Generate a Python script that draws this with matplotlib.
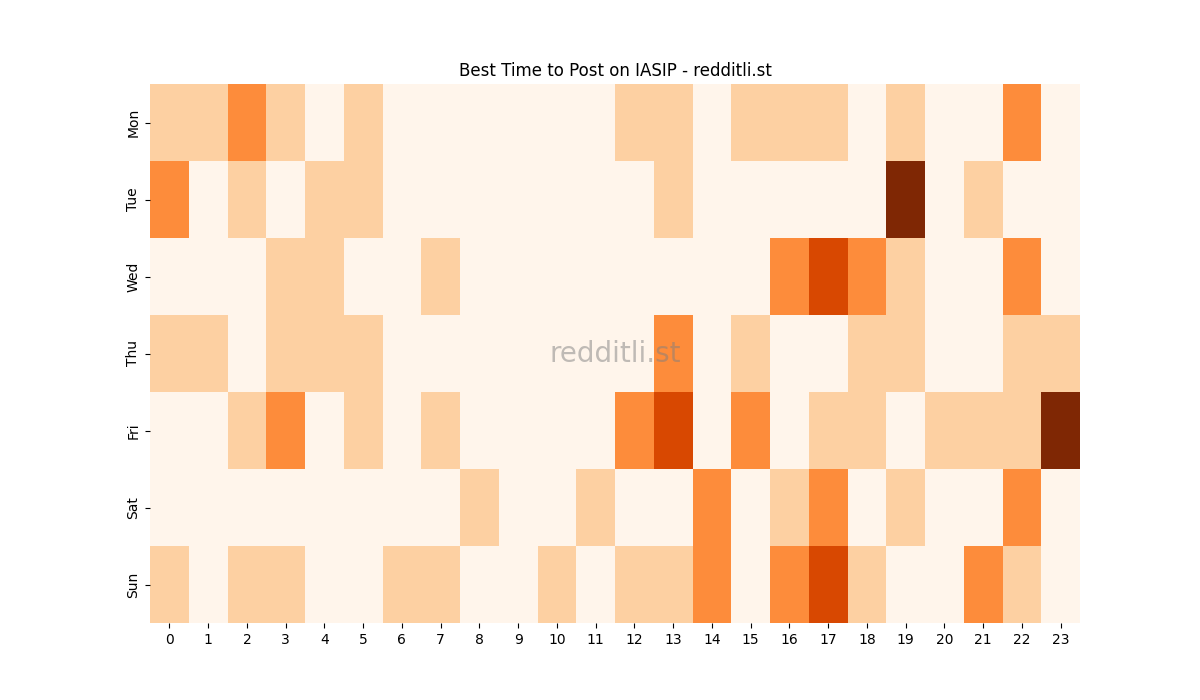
import numpy as np
import matplotlib
matplotlib.use("Agg")
import matplotlib.pyplot as plt
import seaborn as sns

days = ["Mon", "Tue", "Wed", "Thu", "Fri", "Sat", "Sun"]
hours = list(range(24))

# posts per day/hour
mon = [1, 1, 2, 1, 0, 1, 0, 0, 0, 0, 0, 0, 1, 1, 0, 1, 1, 1, 0, 1, 0, 0, 2, 0]
tue = [2, 0, 1, 0, 1, 1, 0, 0, 0, 0, 0, 0, 0, 1, 0, 0, 0, 0, 0, 4, 0, 1, 0, 0]
wed = [0, 0, 0, 1, 1, 0, 0, 1, 0, 0, 0, 0, 0, 0, 0, 0, 2, 3, 2, 1, 0, 0, 2, 0]
thu = [1, 1, 0, 1, 1, 1, 0, 0, 0, 0, 0, 0, 0, 2, 0, 1, 0, 0, 1, 1, 0, 0, 1, 1]
fri = [0, 0, 1, 2, 0, 1, 0, 1, 0, 0, 0, 0, 2, 3, 0, 2, 0, 1, 1, 0, 1, 1, 1, 4]
sat = [0, 0, 0, 0, 0, 0, 0, 0, 1, 0, 0, 1, 0, 0, 2, 0, 1, 2, 0, 1, 0, 0, 2, 0]
sun = [1, 0, 1, 1, 0, 0, 1, 1, 0, 0, 1, 0, 1, 1, 2, 0, 2, 3, 1, 0, 0, 2, 1, 0]

grid = np.array([mon, tue, wed, thu, fri, sat, sun])

fig, ax = plt.subplots(figsize=(12, 7), dpi=100)
sns.heatmap(grid, cmap="Oranges", cbar=False, ax=ax,
            xticklabels=hours, yticklabels=days)
ax.set_yticklabels(days, rotation=90, va="center")
ax.set_title("Best Time to Post on IASIP - redditli.st")

# watermark
ax.text(0.5, 0.5, "redditli.st", transform=ax.transAxes, ha="center",
        va="center", fontsize=20, color="gray", alpha=0.5)

plt.savefig("out.png")
